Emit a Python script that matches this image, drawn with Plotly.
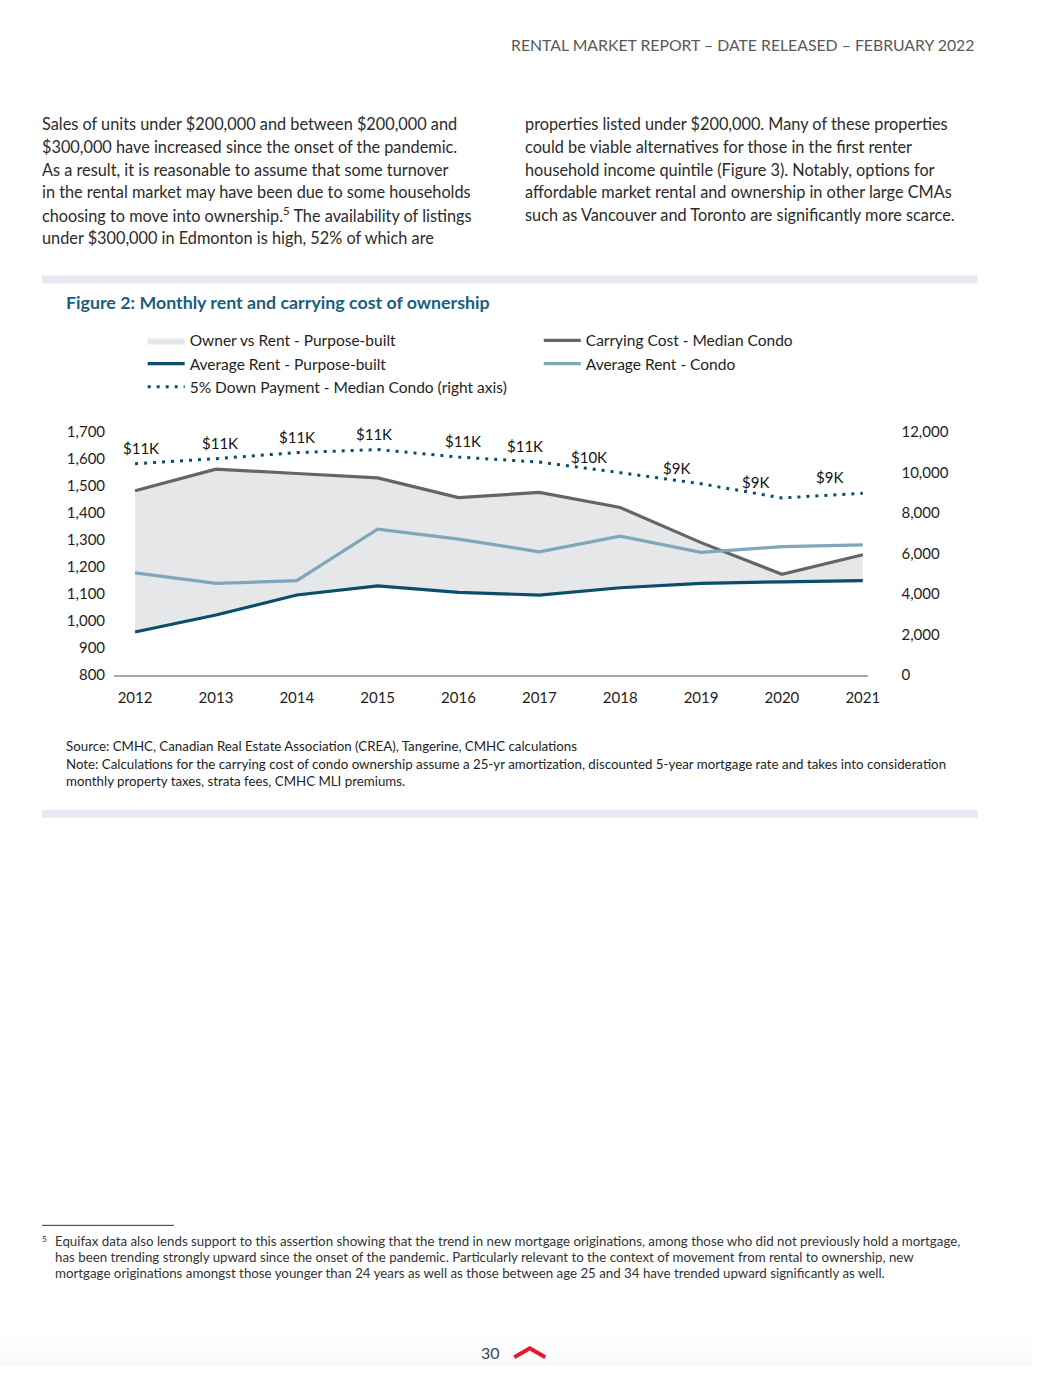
import plotly.graph_objects as go

# figure size (page pixels)
W, H = 1044, 1374
# the photographed page comes out uniformly scaled (~0.988) and shifted down (~9 px);
# layout positions below are given in photographed-page pixels and mapped back here
S, OY = 0.988, 9.3

# ---------------- data ----------------
years = [2012, 2013, 2014, 2015, 2016, 2017, 2018, 2019, 2020, 2021]
carrying_cost_condo = [1482, 1562, 1546, 1530, 1457, 1476, 1420, 1290, 1173, 1245]
avg_rent_condo = [1178, 1139, 1149, 1340, 1303, 1256, 1314, 1254, 1275, 1282]
avg_rent_purpose_built = [959, 1022, 1096, 1130, 1106, 1096, 1123, 1139, 1145, 1149]
down_payment_condo = [10430, 10680, 10980, 11130, 10760, 10510, 9990, 9440, 8740, 8970]
down_payment_labels = ["$11K", "$11K", "$11K", "$11K", "$11K", "$11K", "$10K", "$9K", "$9K", "$9K"]

left_ticks = [800, 900, 1000, 1100, 1200, 1300, 1400, 1500, 1600, 1700]
right_ticks = [0, 2000, 4000, 6000, 8000, 10000, 12000]

# ---------------- styles ----------------
FONT = "Lato"
C_FILL = "#E6E7E8"
C_DARK = "#0B4E6B"
C_GRAY = "#646569"
C_LIGHT = "#7FA7B9"
C_TEXT = "#1e1e1e"
C_TITLE = "#1A5E80"
LABEL_XSHIFT = [6, 4, 0, -4, 4, -14, -31, -24, -26, -33]


def px(x):
    return (x / S) / W


def py(y):
    return 1 - ((y - OY) / S) / H


fig = go.Figure()

# shaded band between carrying cost and purpose-built rent
fig.add_trace(go.Scatter(
    x=years + years[::-1],
    y=carrying_cost_condo + avg_rent_purpose_built[::-1],
    fill="toself", fillcolor=C_FILL, mode="lines", line=dict(width=0),
    name="Owner vs Rent - Purpose-built", legend="legend", hoverinfo="skip",
))
fig.add_trace(go.Scatter(
    x=years, y=avg_rent_purpose_built, mode="lines",
    line=dict(color=C_DARK, width=3.2),
    name="Average Rent - Purpose-built", legend="legend",
))
fig.add_trace(go.Scatter(
    x=years, y=down_payment_condo, mode="lines", yaxis="y2",
    line=dict(color=C_DARK, width=3, dash="3px,6px"),
    name="5% Down Payment - Median Condo (right axis)", legend="legend",
))
fig.add_trace(go.Scatter(
    x=years, y=carrying_cost_condo, mode="lines",
    line=dict(color=C_GRAY, width=3.2),
    name="Carrying Cost - Median Condo", legend="legend2",
))
fig.add_trace(go.Scatter(
    x=years, y=avg_rent_condo, mode="lines",
    line=dict(color=C_LIGHT, width=3.2),
    name="Average Rent - Condo", legend="legend2",
))

# data labels on dotted series
for yr, v, lab, dx in zip(years, down_payment_condo, down_payment_labels, LABEL_XSHIFT):
    fig.add_annotation(x=yr, y=v, xref="x", yref="y2", text=lab, showarrow=False,
                       yanchor="bottom", yshift=5, xshift=dx / S,
                       font=dict(family=FONT, size=15, color="#111111"))


def add_text(x, y, text, size, color=C_TEXT, xanchor="left", family=FONT):
    fig.add_annotation(x=px(x), y=py(y), xref="paper", yref="paper", text=text,
                       showarrow=False, xanchor=xanchor, yanchor="middle",
                       font=dict(family=family, size=size, color=color))


# header
add_text(976, 44, "RENTAL MARKET REPORT – DATE RELEASED – FEBRUARY 2022", 15.8,
         color="#595959", xanchor="right")

# body text
left_lines = [
    "Sales of units under $200,000 and between $200,000 and",
    "$300,000 have increased since the onset of the pandemic.",
    "As a result, it is reasonable to assume that some turnover",
    "in the rental market may have been due to some households",
    "choosing to move into ownership.<sup>5</sup> The availability of listings",
    "under $300,000 in Edmonton is high, 52% of which are",
]
right_lines = [
    "properties listed under $200,000. Many of these properties",
    "could be viable alternatives for those in the first renter",
    "household income quintile (Figure 3). Notably, options for",
    "affordable market rental and ownership in other large CMAs",
    "such as Vancouver and Toronto are significantly more scarce.",
]
for i, t in enumerate(left_lines):
    add_text(40, 123 + i * 22.8, t, 16.3, color="#2b2b2b")
for i, t in enumerate(right_lines):
    add_text(523, 123 + i * 22.8, t, 16.3, color="#2b2b2b")

# figure title
add_text(64, 302, "<b>Figure 2: Monthly rent and carrying cost of ownership</b>", 17.8, color=C_TITLE)

# source / note
add_text(64, 746, "Source: CMHC, Canadian Real Estate Association (CREA), Tangerine, CMHC calculations", 13.3)
add_text(64, 764, "Note: Calculations for the carrying cost of condo ownership assume a 25-yr amortization, "
                  "discounted 5-year mortgage rate and takes into consideration", 13.3)
add_text(64, 781, "monthly property taxes, strata fees, CMHC MLI premiums.", 13.3)

# footnote
add_text(40, 1240, "<sup>5</sup>", 12, color="#333333")
foot = [
    "Equifax data also lends support to this assertion showing that the trend in new mortgage originations, "
    "among those who did not previously hold a mortgage,",
    "has been trending strongly upward since the onset of the pandemic. Particularly relevant to the context "
    "of movement from rental to ownership, new",
    "mortgage originations amongst those younger than 24 years as well as those between age 25 and 34 "
    "have trended upward significantly as well.",
]
for i, t in enumerate(foot):
    add_text(53, 1242 + i * 16, t, 13.3, color="#333333")

# page number
add_text(502, 1353, "30", 16, color="#3a4656", xanchor="right")

shapes = [
    dict(type="rect", xref="paper", yref="paper", x0=px(42), x1=px(977), y0=py(283), y1=py(275),
         fillcolor="#E6EAF0", line=dict(width=0), layer="below"),
    dict(type="rect", xref="paper", yref="paper", x0=px(42), x1=px(977), y0=py(818), y1=py(810),
         fillcolor="#E6EAF0", line=dict(width=0), layer="below"),
    dict(type="line", xref="paper", yref="paper", x0=px(42), x1=px(174), y0=py(1226), y1=py(1226),
         line=dict(color="#333333", width=1)),
    dict(type="path", xref="paper", yref="paper",
         path=f"M {px(514)} {py(1358)} L {px(529.5)} {py(1349)} L {px(545)} {py(1358)}",
         line=dict(color="#E3192D", width=4)),
]
# faint bottom page shadow
for y0, op in [(1335, 0.015), (1350, 0.02), (1362, 0.025)]:
    shapes.append(dict(type="rect", xref="paper", yref="paper", x0=0, x1=1, y0=0, y1=py(y0),
                       fillcolor="#888888", opacity=op, line=dict(width=0), layer="below"))

legend_common = dict(xanchor="left", yanchor="top", orientation="v",
                     font=dict(family=FONT, size=15.5, color=C_TEXT), bgcolor="rgba(0,0,0,0)",
                     itemwidth=37, tracegroupgap=0, traceorder="normal")

fig.update_layout(
    width=W, height=H,
    margin=dict(l=0, r=0, t=0, b=0),
    paper_bgcolor="white", plot_bgcolor="white",
    font=dict(family=FONT, size=15, color=C_TEXT),
    showlegend=True,
    shapes=shapes,
    xaxis=dict(domain=[px(114), px(868)], range=[2011.74, 2021.07],
               tickvals=years, ticktext=[str(y) for y in years],
               showgrid=False, zeroline=False, showline=True, linecolor="#A7A9AC", linewidth=2,
               ticks="", tickfont=dict(family=FONT, size=15, color=C_TEXT), ticklabelstandoff=8),
    yaxis=dict(domain=[py(675), py(431.7)], range=[800, 1700], tickvals=left_ticks,
               tickformat=",", showgrid=False, zeroline=False, showline=False, ticks="",
               tickfont=dict(family=FONT, size=15, color=C_TEXT), ticklabelstandoff=8),
    yaxis2=dict(overlaying="y", side="right", range=[0, 12000], tickvals=right_ticks,
                tickformat=",", showgrid=False, zeroline=False, showline=False, ticks="",
                tickfont=dict(family=FONT, size=15, color=C_TEXT), ticklabelstandoff=32),
    legend=dict(x=px(142.6), y=py(323.5), **legend_common),
    legend2=dict(x=px(538.5), y=py(323.5), **legend_common),
    hovermode=False,
)

fig.write_html("out.html", config={"displayModeBar": False},
               post_script="document.body.style.margin='0';")
